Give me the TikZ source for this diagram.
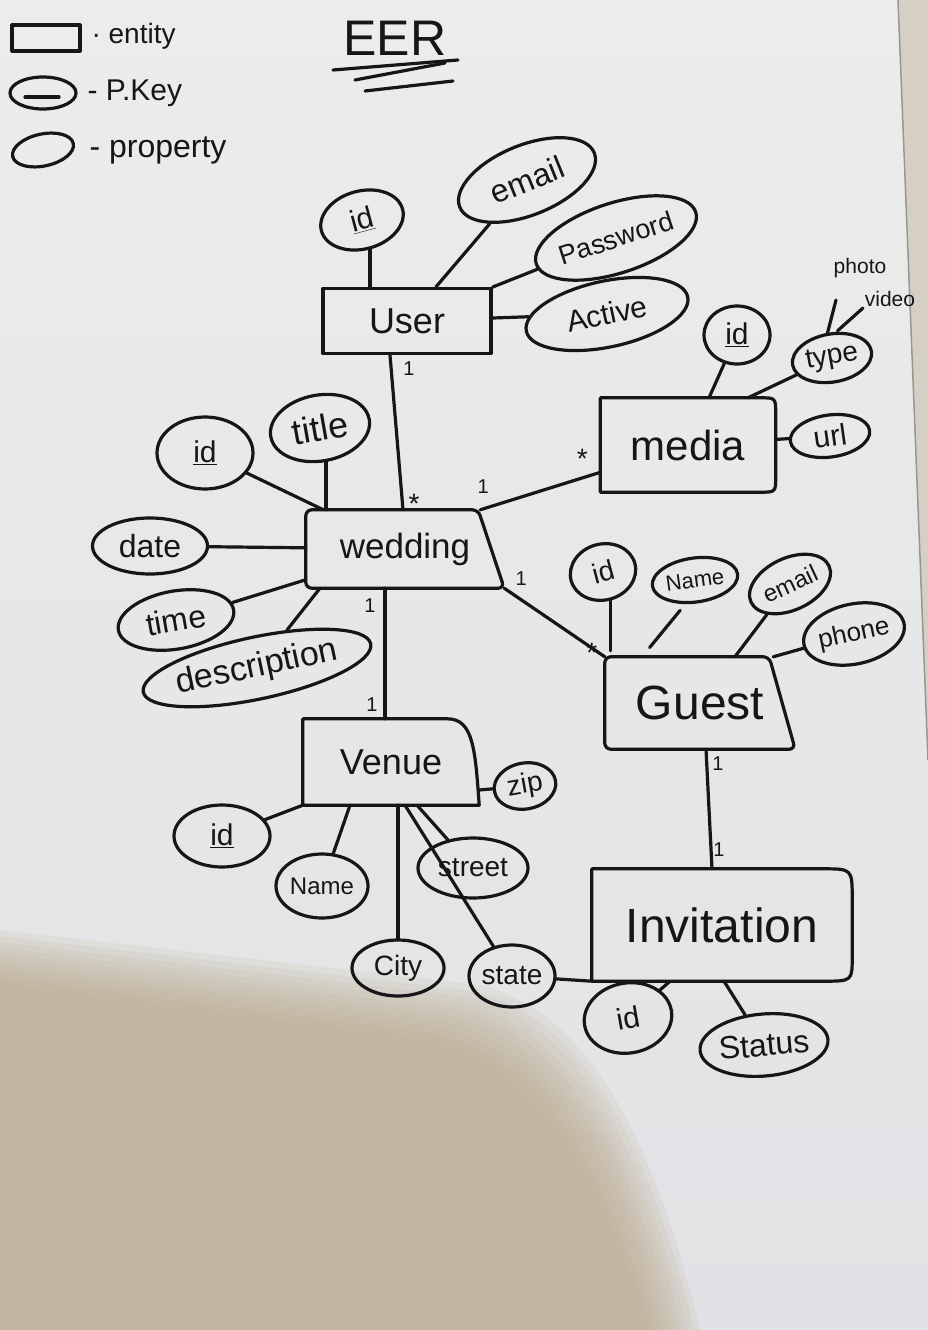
\documentclass[tikz,border=0pt]{standalone}
\usepackage{fontspec}
\setmainfont{Liberation Sans}
\usetikzlibrary{shapes.geometric}
\definecolor{ink}{RGB}{22,22,24}
\definecolor{boardtop}{RGB}{236,236,234}
\definecolor{boardlow}{RGB}{224,226,229}
\definecolor{shadowc}{RGB}{188,170,142}
\definecolor{wall}{RGB}{214,208,196}
\definecolor{frame}{RGB}{150,150,148}

\begin{document}
\begin{tikzpicture}[x=1pt,y=-1pt,
  every node/.append style={text=ink},
  fs/.style={font=\fontsize{#1}{#1}\selectfont},
  pen/.style={draw=ink, line width=3.2pt, line cap=round, line join=round},
  attr/.style={ellipse, pen, inner sep=0pt},
  ent/.style={inner sep=0pt},
  wire/.style={pen},
  card/.style={fs=20}]

% whiteboard
\useasboundingbox (0,0) rectangle (928,1330);
\shade[top color=boardtop, bottom color=boardlow] (0,0) rectangle (928,1330);
\foreach \d in {0,6,...,54}{
  \fill[shadowc, opacity=0.13] (0,930+\d) -- (480-\d,985+\d)
    .. controls (580-\d,1010+\d) and (650-\d,1120+\d/2) .. (700-\d,1330) -- (0,1330) -- cycle;
}
\fill[wall] (898,0) -- (928,0) -- (928,760) -- cycle;
\draw[frame, line width=1.5pt] (898,0) -- (928,760);

% legend
\node[ent, pen, minimum width=68, minimum height=26] (lent) at (46,38) {};
\node[anchor=west, fs=28] (lentt) at (88,36) {· entity};
\node[attr, minimum width=66, minimum height=32] (lpk) at (43,93) {};
\draw[pen] ([shift={(-18,4)}]lpk.center) -- ([shift={(16,4)}]lpk.center);
\node[anchor=west, fs=30] (lpkt) at (84,93) {- P.Key};
\node[attr, minimum width=62, minimum height=32, rotate=12] (lprop) at (43,150) {};
\node[anchor=west, fs=32] (lpropt) at (86,150) {- property};

% title
\node[fs=50] (ttl) at (395,38) {EER};
\draw[pen] ([shift={(-62,32)}]ttl.center) -- ([shift={(63,22)}]ttl.center);
\draw[pen] ([shift={(-40,42)}]ttl.center) -- ([shift={(50,25)}]ttl.center);
\draw[pen] ([shift={(-30,53)}]ttl.center) -- ([shift={(58,43)}]ttl.center);

% entities
\node[ent, pen, minimum width=168, minimum height=65, fs=36] (usr) at (407,321) {User};

\node[ent, minimum width=198, minimum height=78, fs=35] (wed) at (405,549) {wedding};
\draw[pen, rounded corners=6] (wed.south west) -- (wed.north west)
  -- ([shift={(-26,0)}]wed.north east) -- (wed.south east) -- cycle;

\node[ent, minimum width=175, minimum height=94, fs=42] (med) at (688,445) {media};
\draw[pen] (med.south west) -- (med.north west) -- ([shift={(-16,0)}]med.north east)
  .. controls (med.north east) .. ([shift={(0,16)}]med.north east)
  -- ([shift={(0,-16)}]med.south east)
  .. controls (med.south east) .. ([shift={(-16,0)}]med.south east) -- cycle;

\node[ent, minimum width=190, minimum height=92, fs=48] (gst) at (700,703) {Guest};
\draw[pen, rounded corners=6] (gst.south west) -- (gst.north west)
  -- ([shift={(-26,0)}]gst.north east) -- (gst.south east) -- cycle;

\node[ent, minimum width=176, minimum height=86, fs=36] (ven) at (391,762) {Venue};
\draw[pen] (ven.south west) -- (ven.north west) -- ([shift={(-32,0)}]ven.north east)
  .. controls ([shift={(-6,0)}]ven.north east) and ([shift={(-4,30)}]ven.north east)
  .. (ven.south east) -- cycle;

\node[ent, minimum width=260, minimum height=112, fs=48] (inv) at (722,925) {Invitation};
\draw[pen] (inv.south west) -- (inv.north west) -- ([shift={(-30,0)}]inv.north east)
  .. controls (inv.north east) .. ([shift={(0,30)}]inv.north east)
  -- ([shift={(0,-24)}]inv.south east)
  .. controls (inv.south east) .. ([shift={(-30,0)}]inv.south east) -- cycle;

% User attributes
\node[attr, minimum width=84, minimum height=58, rotate=15, fs=30] (uid) at (362,220) {\underline{id}};
\node[attr, minimum width=145, minimum height=70, rotate=22, fs=32] (uemail) at (527,180) {email};
\node[attr, minimum width=158, minimum height=70, rotate=18, fs=27] (upass) at (616,238) {Password};
\node[attr, minimum width=165, minimum height=66, rotate=12, fs=30] (uact) at (607,314) {Active};
\draw[wire] (uid.south) -- (uid.south |- usr.north);
\draw[wire] (uemail) -- (usr);
\draw[wire] (upass) -- (usr);
\draw[wire] (uact) -- (usr);

% Wedding attributes
\node[attr, minimum width=96, minimum height=72, fs=30] (wid) at (205,453) {\underline{id}};
\node[attr, minimum width=100, minimum height=66, rotate=10, fs=36] (wtitle) at (320,428) {title};
\node[attr, minimum width=115, minimum height=56, fs=32] (wdate) at (150,546) {date};
\node[attr, minimum width=117, minimum height=58, rotate=10, fs=32] (wtime) at (176,620) {time};
\node[attr, minimum width=228, minimum height=62, rotate=12, fs=34] (wdesc) at (257,668) {description};
\draw[wire] (wid) -- (wed);
\draw[wire] (wtitle.south) -- (wtitle.south |- wed.north);
\draw[wire] (wdate) -- (wed);
\draw[wire] (wtime) -- (wed);
\draw[wire] (wdesc) -- ([shift={(-85,0)}]wed.south);

% Media attributes
\node[attr, minimum width=66, minimum height=58, fs=30] (mid) at (737,335) {\underline{id}};
\node[attr, minimum width=80, minimum height=48, rotate=10, fs=28] (mtype) at (832,358) {type};
\node[fs=21] (mphoto) at (860,268) {photo};
\node[fs=21] (mvideo) at (890,299) {video};
\node[attr, minimum width=80, minimum height=42, rotate=8, fs=30] (murl) at (830,436) {url};
\draw[wire] (mid) -- (med);
\draw[wire] (mtype) -- ([shift={(60,0)}]med.north);
\draw[wire] (mtype.north) -- ([shift={(-24,32)}]mphoto.center);
\draw[wire] ([shift={(10,-2)}]mtype.north) -- ([shift={(-27,9)}]mvideo.center);
\draw[wire] (murl) -- (med);

% Guest attributes
\node[attr, minimum width=66, minimum height=56, rotate=15, fs=28] (gid) at (603,572) {id};
\node[attr, minimum width=86, minimum height=44, rotate=8, fs=22] (gname) at (695,580) {Name};
\node[attr, minimum width=86, minimum height=52, rotate=25, fs=24] (gemail) at (790,584) {email};
\node[attr, minimum width=90, minimum height=60, rotate=12, fs=26] (gphone) at (854,634) {phone};
\draw[wire, shorten >=6] (gid.south) -- (gid.south |- gst.north);
\draw[wire, shorten <=8, shorten >=12] (gname.240) -- ([shift={(-58,0)}]gst.north);
\draw[wire] (gemail) -- (gst);
\draw[wire] (gphone) -- ([shift={(-22,0)}]gst.north east);

% Venue attributes
\node[attr, minimum width=96, minimum height=62, fs=30] (vid) at (222,836) {\underline{id}};
\node[attr, minimum width=92, minimum height=64, fs=24] (vname) at (322,886) {Name};
\node[attr, minimum width=92, minimum height=56, fs=28] (vcity) at (398,968) {City};
\node[attr, minimum width=110, minimum height=60, fs=28] (vstreet) at (473,868) {street};
\node[attr, minimum width=86, minimum height=62, fs=28] (vstate) at (512,976) {state};
\node[attr, minimum width=62, minimum height=46, rotate=10, fs=28] (vzip) at (525,786) {zip};
\draw[wire] (vid) -- (ven.south west);
\draw[wire] (vname) -- ([shift={(-41,0)}]ven.south);
\draw[wire] (vcity) -- ([shift={(7,0)}]ven.south);
\draw[wire] (vstreet) -- ([shift={(26,0)}]ven.south);
\draw[wire] (vstate) -- ([shift={(14,0)}]ven.south);
\draw[wire] (vzip) -- ([shift={(0,28)}]ven.east);

% Invitation attributes
\node[attr, minimum width=88, minimum height=70, rotate=10, fs=30] (iid) at (628,1018) {id};
\node[attr, minimum width=128, minimum height=62, rotate=5, fs=32] (istat) at (764,1045) {Status};
\draw[wire] (iid) -- ([shift={(-52,0)}]inv.south);
\draw[wire] (istat) -- ([shift={(2,0)}]inv.south);
\draw[wire] (vstate) -- (inv.south west);

% relationships
\draw[wire] ([shift={(-17,0)}]usr.south) -- ([shift={(-2,0)}]wed.north);
\node[card] (c1) at ([shift={(2,14)}]usr.south) {1};
\node[fs=28] (c2) at ([shift={(9,-6)}]wed.north) {*};

\draw[wire] ([shift={(-24,0)}]wed.north east) -- (med);
\node[card] (c3) at ([shift={(-21,-23)}]wed.north east) {1};
\node[fs=28] (c4) at ([shift={(-18,14)}]med.west) {*};

\draw[wire] (wed.south east) -- (gst.north west);
\node[card] (c5) at ([shift={(17,-10)}]wed.south east) {1};
\node[fs=28] (c6) at ([shift={(-13,-4)}]gst.north west) {*};

\draw[wire] ([shift={(-20,0)}]wed.south) -- ([shift={(-6,0)}]ven.north);
\node[card] (c7) at ([shift={(-35,17)}]wed.south) {1};
\node[card] (c8) at ([shift={(-19,-14)}]ven.north) {1};

\draw[wire] ([shift={(6,0)}]gst.south) -- ([shift={(-10,0)}]inv.north);
\node[card] (c9) at ([shift={(18,14)}]gst.south) {1};
\node[card] (c10) at ([shift={(-3,-19)}]inv.north) {1};

\end{tikzpicture}
\end{document}
